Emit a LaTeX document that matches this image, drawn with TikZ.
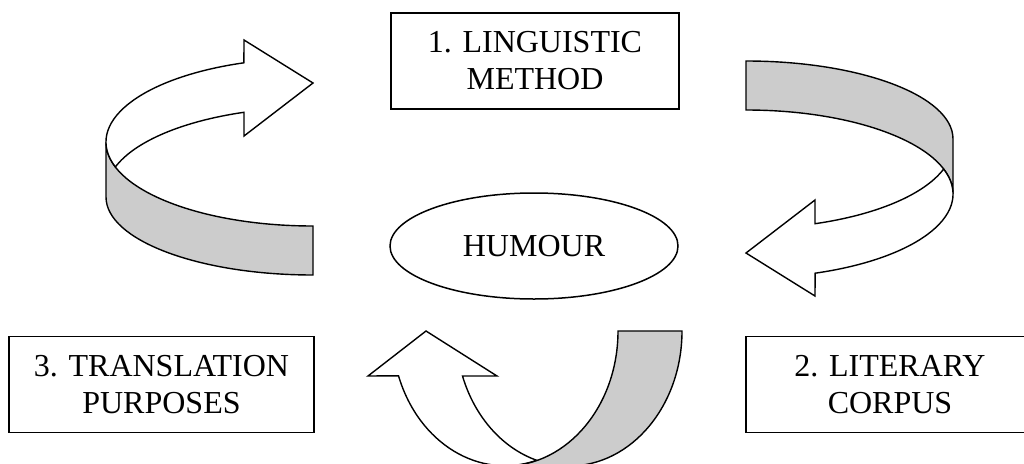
\documentclass[tikz,border=0pt]{standalone}
\usepackage{fontspec}
\setmainfont{Liberation Serif}
\usetikzlibrary{shapes.geometric}
\definecolor{bandgray}{gray}{0.8}
\tikzset{
	stage/.style={draw, rectangle, line width=1.8pt, align=center, inner sep=0pt,
		minimum width=288pt, minimum height=96pt, font=\fontsize{32}{37}\selectfont},
	ribbon/.style={draw, line width=1.4pt}
}
% curved band arrow, tail at the bottom right, head pointing right
\def\ribbonarrow{%
	\draw[ribbon, fill=bandgray] (106,142) -- (106,197)
		arc[start angle=180, end angle=90, x radius=207, y radius=78] -- (313,226)
		arc[start angle=90, end angle=180, x radius=207, y radius=84] -- cycle;
	\draw[ribbon, fill=white] (244,136) -- (313,83) -- (244,40) -- (243.9,62.8)
		arc[start angle=250.5, end angle=162.7, x radius=207, y radius=84]
		arc[start angle=197.2, end angle=250.5, x radius=207, y radius=84.5] -- cycle;
}

\begin{document}
\begin{tikzpicture}[x=1pt, y=-1pt]
		%%%%% START %%%%%
		\clip (0,0) rectangle (1024,463);
		
		\node[stage] (method) at (535,61) {1. LINGUISTIC\\METHOD};
		\node[stage] (corpus) at (890,384.5) {2. LITERARY\\CORPUS};
		\node[stage, minimum width=305pt] (purposes) at (161.5,384.5) {3. TRANSLATION\\PURPOSES};
		\node[draw, ellipse, line width=1.5pt, inner sep=0pt, minimum width=288pt, minimum height=106pt,
			font=\fontsize{32}{37}\selectfont] (humour) at (534,246) {HUMOUR};
		
		% top left arrow
		\ribbonarrow
		
		% top right arrow
		\begin{scope}[rotate around={180:(529.5,168)}]
			\ribbonarrow
		\end{scope}
		
		% bottom arrow
		\draw[ribbon, fill=white] (368,376) -- (426,331) -- (497,376) -- (462.5,376)
			arc[start angle=160.5, end angle=106.6, x radius=113, y radius=135]
			arc[start angle=73.7, end angle=160.5, x radius=113, y radius=135] -- cycle;
		\draw[ribbon, fill=bandgray] (618,331) -- (682,331)
			arc[start angle=0, end angle=90, x radius=113, y radius=135] -- (505,466)
			arc[start angle=90, end angle=0, x radius=113, y radius=135] -- cycle;
		%%%%% END %%%%%
	\end{tikzpicture}
\end{document}
